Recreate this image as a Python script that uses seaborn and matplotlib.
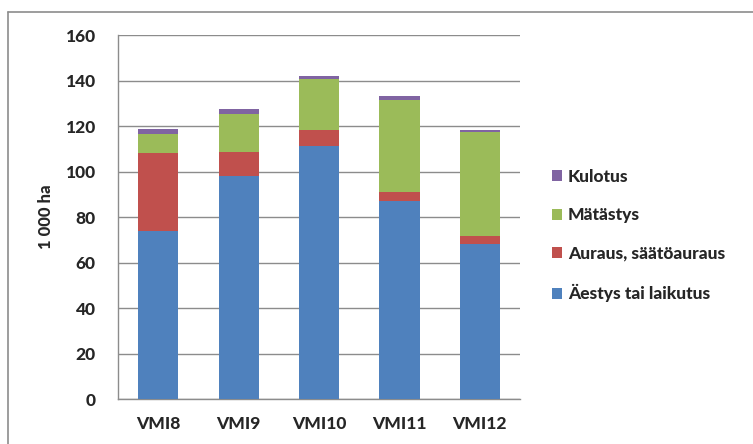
import numpy as np
import pandas as pd
import matplotlib
matplotlib.use("Agg")
import matplotlib.pyplot as plt
import seaborn as sns
from matplotlib.lines import Line2D
from matplotlib.patches import Patch

# data (1 000 ha)
inventories = ["VMI8", "VMI9", "VMI10", "VMI11", "VMI12"]
aestys = [74.0, 98.2, 111.0, 87.0, 68.3]
auraus = [34.0, 10.4, 7.2, 3.8, 3.2]
matastys = [8.5, 16.7, 22.6, 40.6, 46.0]
kulotus = [2.2, 2.2, 1.0, 1.6, 0.6]

series_names = ["Äestys tai laikutus", "Auraus, säätöauraus", "Mätästys", "Kulotus"]
colors = ["#4F81BD", "#C0504D", "#9BBB59", "#8064A2"]

df = pd.DataFrame({"VMI": inventories,
                   series_names[0]: aestys,
                   series_names[1]: auraus,
                   series_names[2]: matastys,
                   series_names[3]: kulotus})

# cumulative tops for stacking
stack = df[series_names].cumsum(axis=1)

sns.set_style("white")
plt.rcParams["font.family"] = ["Lato", "DejaVu Sans"]

fig = plt.figure(figsize=(7.53, 4.44), dpi=100)
ax = fig.add_axes([118 / 753, 1 - 399 / 444, 402 / 753, 364 / 444])

# draw tallest first so lower segments sit on top
for name, col in reversed(list(zip(series_names, colors))):
    sns.barplot(x=df["VMI"], y=stack[name], color=col, width=0.5,
                saturation=1, linewidth=0, ax=ax, zorder=3)

ax.set_ylim(0, 160)
ax.set_yticks(np.arange(0, 161, 20))
ax.set_xlim(-0.5, 4.5)
ax.yaxis.grid(True, color="#8c8c8c", linewidth=1.0, zorder=0)
ax.set_axisbelow(True)

for s in ["top", "right"]:
    ax.spines[s].set_visible(False)
for s in ["left", "bottom"]:
    ax.spines[s].set_color("#8c8c8c")
    ax.spines[s].set_linewidth(1.0)

ax.tick_params(axis="y", length=6, color="#8c8c8c", width=1, pad=10)
ax.tick_params(axis="x", length=0, pad=12)
for lbl in ax.get_yticklabels() + ax.get_xticklabels():
    lbl.set_fontweight("black")
    lbl.set_fontsize(12.5)

ax.set_xlabel("")
ax.set_ylabel("1 000 ha", fontsize=12, fontweight="black", labelpad=8)

handles = [Patch(facecolor=c, edgecolor="none") for c in colors]
leg = fig.legend(handles[::-1], series_names[::-1], loc="upper left",
                 bbox_to_anchor=(536 / 753, 1 - 153 / 444), frameon=False,
                 prop={"weight": "black", "size": 12.5}, handlelength=0.6,
                 handleheight=0.6, handletextpad=0.35, labelspacing=1.3)

# outer chart-area border (top and left visible)
fig.add_artist(Line2D([8 / 753, 1], [1 - 12.5 / 444, 1 - 12.5 / 444],
                      color="#8c8c8c", linewidth=1.2))
fig.add_artist(Line2D([8 / 753, 8 / 753], [0, 1 - 12.5 / 444],
                      color="#8c8c8c", linewidth=1.2))

fig.savefig("out.png", dpi=100)
